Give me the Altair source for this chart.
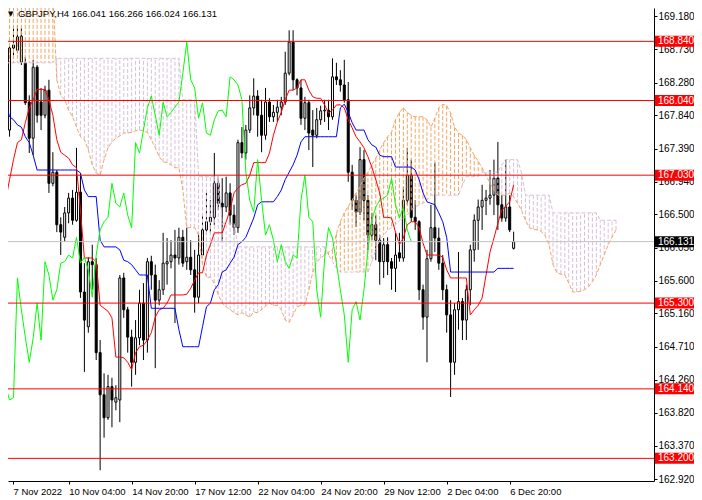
import altair as alt
import pandas as pd

# ---------------- data ----------------
OPEN = [168.11, 167.64, 168.75, 168.72, 168.56, 168.55, 168.02, 167.53, 168.49, 168.02,
        167.84, 168.18, 166.92, 167.07, 166.36, 166.19, 166.52, 166.72, 166.42, 166.80,
        165.45, 164.98, 165.86, 165.82, 164.63, 164.06, 163.75, 164.17, 163.96, 163.99,
        165.64, 165.21, 164.84, 164.50, 164.83, 165.30, 164.80, 165.86, 165.68, 165.34,
        165.48, 165.83, 165.86, 165.95, 165.91, 166.19, 165.86, 165.92, 165.75, 165.38,
        165.95, 166.29, 166.40, 166.46, 166.92, 166.65, 166.60, 166.79, 166.49, 166.32,
        167.47, 167.33, 167.64, 167.94, 168.10, 167.84, 167.57, 168.02, 167.82, 167.88,
        167.95, 168.02, 168.41, 168.83, 168.32, 168.21, 167.80, 168.01, 167.64, 167.57,
        167.78, 167.90, 167.91, 167.82, 168.36, 168.32, 168.25, 168.05, 167.07, 166.69,
        166.53, 167.24, 166.69, 166.22, 166.36, 166.15, 165.86, 166.09, 165.86, 165.77,
        165.98, 165.91, 166.69, 167.03, 166.46, 166.40, 165.48, 165.11, 165.90, 166.32,
        166.18, 165.84, 165.48, 165.14, 164.50, 165.21, 165.32, 165.07, 165.48, 166.02,
        166.42, 166.60, 166.69, 166.72, 166.76, 166.99, 166.63, 166.45, 166.60, 166.041]
HIGH = [168.28, 168.78, 169.06, 169.06, 169.02, 168.63, 168.11, 168.59, 168.52, 168.21,
        168.24, 168.32, 167.34, 167.10, 166.46, 166.60, 166.79, 166.83, 167.40, 167.06,
        165.84, 165.92, 166.09, 165.91, 164.80, 164.35, 164.33, 164.29, 164.19, 165.68,
        165.71, 165.25, 164.94, 165.07, 165.48, 165.57, 165.91, 165.94, 165.82, 165.61,
        166.25, 166.18, 166.15, 166.29, 166.32, 166.29, 166.32, 166.15, 166.02, 166.25,
        166.49, 166.80, 166.69, 167.33, 167.01, 166.99, 167.01, 166.92, 166.63, 167.51,
        167.68, 167.71, 168.11, 168.34, 168.18, 168.05, 168.21, 168.07, 167.98, 168.05,
        168.09, 168.70, 168.99, 168.99, 168.34, 168.32, 168.09, 168.05, 167.91, 167.94,
        167.97, 168.05, 168.05, 168.61, 168.55, 168.45, 168.59, 168.29, 167.17, 166.76,
        167.41, 167.37, 166.76, 166.52, 166.49, 166.22, 166.18, 166.19, 165.91, 166.25,
        166.25, 166.87, 167.40, 167.24, 166.69, 166.42, 165.55, 166.02, 166.63, 167.20,
        166.32, 165.95, 165.55, 165.34, 165.30, 165.99, 165.37, 165.55, 166.09, 166.50,
        166.70, 166.90, 166.83, 167.10, 167.24, 167.48, 166.76, 167.24, 166.76, 166.266]
LOW = [167.55, 167.55, 168.61, 168.68, 168.52, 167.98, 167.33, 167.30, 167.74, 167.64,
       167.80, 166.79, 166.88, 166.26, 165.95, 166.13, 166.38, 166.36, 166.40, 165.37,
       164.37, 164.90, 165.48, 164.53, 163.04, 163.48, 163.72, 163.62, 163.85, 163.69,
       165.10, 164.63, 164.17, 164.33, 164.73, 164.53, 164.63, 165.48, 164.42, 165.27,
       165.41, 165.55, 165.77, 165.03, 165.82, 165.79, 165.75, 165.68, 165.17, 165.30,
       165.91, 166.22, 166.25, 166.36, 166.56, 166.13, 166.53, 166.36, 166.22, 166.25,
       167.26, 167.24, 167.60, 167.84, 167.55, 167.34, 167.51, 167.75, 167.75, 167.75,
       167.84, 167.98, 168.38, 168.18, 168.11, 167.71, 167.64, 167.37, 167.14, 167.53,
       167.71, 167.75, 167.64, 167.78, 168.25, 168.16, 168.01, 166.94, 166.56, 166.33,
       166.49, 166.42, 166.02, 166.15, 165.88, 165.55, 165.64, 165.68, 165.48, 165.45,
       165.86, 165.86, 166.63, 166.40, 166.29, 165.34, 164.94, 164.50, 165.86, 165.99,
       165.75, 165.34, 164.90, 164.03, 164.33, 164.94, 164.80, 164.80, 165.27, 165.86,
       166.02, 166.29, 166.49, 166.63, 166.49, 166.29, 166.40, 166.40, 166.26, 166.024]
CLOSE = [167.84, 168.75, 168.79, 168.90, 168.91, 168.01, 167.53, 168.49, 167.84, 167.84,
         168.18, 166.92, 167.07, 166.36, 166.26, 166.52, 166.72, 166.42, 166.80, 165.45,
         165.07, 165.86, 165.82, 164.63, 164.06, 163.75, 164.17, 163.99, 164.02, 165.64,
         165.21, 164.84, 164.50, 164.83, 165.30, 164.80, 165.86, 165.68, 165.34, 165.48,
         165.84, 165.86, 165.95, 165.91, 166.19, 165.84, 165.92, 165.75, 165.38, 165.95,
         166.29, 166.40, 166.46, 166.92, 166.65, 166.60, 166.79, 166.49, 166.32, 167.47,
         167.33, 167.64, 167.94, 168.10, 167.84, 167.57, 168.02, 167.82, 167.88, 167.95,
         168.02, 168.41, 168.83, 168.32, 168.21, 167.80, 168.01, 167.60, 167.57, 167.78,
         167.90, 167.91, 167.82, 168.36, 168.32, 168.25, 168.05, 167.07, 166.69, 166.53,
         167.24, 166.69, 166.22, 166.36, 166.15, 165.86, 166.09, 165.86, 165.77, 165.95,
         165.91, 166.69, 167.03, 166.46, 166.40, 165.48, 165.11, 165.90, 166.32, 166.18,
         165.84, 165.48, 165.14, 164.50, 165.21, 165.32, 165.07, 165.48, 166.02, 166.42,
         166.60, 166.69, 166.72, 166.76, 166.99, 166.63, 166.45, 166.60, 166.29, 166.131]

TENKAN = [166.69, 166.97, 167.24, 167.47, 167.51, 167.74, 167.94, 168.05, 168.19, 168.19,
          168.19, 168.05, 167.84, 167.51, 167.34, 167.30, 167.26, 167.17, 167.13, 166.56,
          165.91, 165.91, 165.91, 165.86, 165.27, 165.23, 165.19, 165.10, 164.57, 164.57,
          164.56, 164.50, 164.40, 164.63, 164.71, 164.73, 164.80, 164.90, 165.11, 165.21,
          165.23, 165.30, 165.41, 165.41, 165.41, 165.41, 165.42, 165.50, 165.61, 165.71,
          165.71, 165.95, 166.09, 166.25, 166.25, 166.25, 166.40, 166.56, 166.79, 166.86,
          166.90, 166.92, 167.03, 167.20, 167.20, 167.20, 167.20, 167.33, 167.57, 167.75,
          167.88, 168.05, 168.18, 168.18, 168.21, 168.32, 168.32, 168.18, 168.09, 168.07,
          168.07, 167.98, 167.87, 167.91, 167.98, 167.98, 167.94, 167.78, 167.67, 167.55,
          167.48, 167.40, 167.28, 167.14, 166.97, 166.79, 166.46, 166.46, 166.45, 166.26,
          166.09, 166.18, 166.36, 166.40, 166.40, 166.32, 166.11, 165.95, 165.95, 165.95,
          165.95, 165.92, 165.75, 165.64, 165.64, 165.64, 165.64, 165.64, 165.14, 165.21,
          165.27, 165.37, 165.68, 165.99, 166.18, 166.38, 166.56, 166.61, 166.67, 166.90]
KIJUN = [168.01, 167.82, 167.78, 167.71, 167.68, 167.55, 167.47, 167.30, 167.10, 167.10,
         167.10, 167.10, 167.10, 167.10, 167.10, 167.10, 167.10, 167.10, 167.10, 167.06,
         166.83, 166.74, 166.74, 166.74, 166.15, 166.06, 166.06, 166.06, 166.06, 166.02,
         165.88, 165.86, 165.82, 165.75, 165.68, 165.68, 165.68, 165.23, 165.23, 165.23,
         165.23, 165.23, 165.23, 165.23, 164.94, 164.71, 164.71, 164.71, 164.71, 164.71,
         164.98, 165.25, 165.30, 165.48, 165.55, 165.72, 165.75, 165.84, 165.92, 166.09,
         166.13, 166.19, 166.32, 166.45, 166.63, 166.67, 166.67, 166.67, 166.67, 166.74,
         166.83, 166.97, 167.07, 167.17, 167.30, 167.48, 167.55, 167.55, 167.55, 167.55,
         167.55, 167.55, 167.55, 167.55, 167.55, 167.94, 167.99, 167.88, 167.74, 167.64,
         167.64, 167.64, 167.51, 167.44, 167.41, 167.30, 167.28, 167.28, 167.28, 167.14,
         167.14, 167.14, 167.14, 167.14, 167.10, 166.97, 166.79, 166.67, 166.65, 166.63,
         166.52, 166.40, 166.19, 165.72, 165.72, 165.72, 165.72, 165.72, 165.72, 165.72,
         165.72, 165.72, 165.72, 165.72, 165.72, 165.77, 165.77, 165.77, 165.77, 165.77]
SENKOU_A = [169.55, 169.55, 169.55, 169.55, 169.55, 169.55, 169.55, 169.55, 169.55, 169.55,
            169.55, 169.55, 169.55, 168.32, 168.11, 168.05, 167.91, 167.82, 167.68, 167.55,
            167.51, 167.37, 167.17, 167.06, 167.03, 167.24, 167.40, 167.48, 167.53, 167.56,
            167.60, 167.60, 167.61, 167.63, 167.64, 167.63, 167.61, 167.51, 167.40, 167.28,
            167.21, 167.20, 167.17, 167.13, 167.13, 166.83, 166.32, 166.32, 166.32, 166.22,
            165.82, 165.65, 165.65, 165.57, 165.41, 165.30, 165.25, 165.21, 165.17, 165.14,
            165.17, 165.14, 165.11, 165.18, 165.17, 165.21, 165.26, 165.30, 165.27, 165.27,
            165.21, 165.07, 165.04, 165.14, 165.25, 165.27, 165.27, 165.48, 165.72, 165.86,
            165.91, 165.95, 165.99, 166.02, 166.24, 166.40, 166.52, 166.61, 166.69, 166.79,
            166.88, 166.99, 167.07, 167.17, 167.26, 167.37, 167.47, 167.55, 167.61, 167.78,
            167.88, 167.94, 167.88, 167.84, 167.82, 167.82, 167.82, 167.78, 167.68, 167.80,
            167.94, 167.99, 167.97, 167.87, 167.68, 167.60, 167.57, 167.51, 167.40, 167.30,
            167.22, 167.13, 167.03, 166.92, 166.83, 166.76, 166.76, 166.76, 166.79, 166.74,
            166.65, 166.56, 166.42, 166.32, 166.30, 166.29, 166.27, 166.21, 166.09, 165.82,
            165.71, 165.69, 165.68, 165.57, 165.45, 165.45, 165.46, 165.48, 165.52, 165.59,
            165.68, 165.82, 165.95, 166.09, 166.19, 166.29]
SENKOU_B = [168.55, 168.55, 168.55, 168.55, 168.55, 168.55, 168.55, 168.55, 168.55, 168.55,
            168.55, 168.55, 168.55, 168.61, 168.61, 168.61, 168.61, 168.61, 168.61, 168.61,
            168.61, 168.61, 168.61, 168.61, 168.61, 168.61, 168.61, 168.61, 168.61, 168.61,
            168.61, 168.61, 168.61, 168.61, 168.61, 168.61, 168.61, 168.61, 168.61, 168.61,
            168.61, 168.61, 168.61, 168.61, 168.61, 168.05, 168.05, 168.05, 168.05, 167.01,
            167.01, 167.01, 167.01, 167.01, 167.01, 166.38, 166.38, 166.38, 166.38, 166.06,
            166.06, 166.06, 166.06, 166.06, 166.06, 166.06, 166.06, 166.06, 166.06, 166.06,
            166.06, 166.06, 166.06, 166.06, 166.06, 166.06, 166.06, 166.06, 166.06, 166.06,
            166.06, 166.06, 165.95, 165.86, 165.77, 165.72, 165.72, 165.72, 165.72, 165.72,
            165.72, 165.72, 165.72, 165.86, 166.02, 166.15, 166.22, 166.29, 166.32, 166.36,
            166.42, 166.45, 166.49, 166.56, 166.60, 166.63, 166.65, 166.69, 166.76, 166.76,
            166.76, 166.76, 166.76, 166.76, 166.76, 166.76, 166.90, 167.01, 167.01, 167.01,
            167.01, 167.07, 167.07, 167.07, 167.07, 167.07, 167.17, 167.24, 167.24, 167.24,
            167.24, 167.06, 166.76, 166.76, 166.76, 166.76, 166.76, 166.76, 166.76, 166.52,
            166.52, 166.52, 166.52, 166.52, 166.52, 166.52, 166.52, 166.52, 166.52, 166.52,
            166.52, 166.42, 166.42, 166.42, 166.42, 166.42]
CHIKOU_SHIFT = 26
LEVELS = [168.840, 168.040, 167.030, 165.300, 164.140, 163.200]
LAST_PRICE = 166.131
Y_TICKS = [169.180, 168.730, 168.280, 167.840, 167.390, 166.940, 166.500, 166.050,
           165.600, 165.160, 164.710, 164.260, 163.820, 163.370, 162.920]
X_TICK_BARS = [1.875, 16, 32, 48, 64, 80, 96, 112, 128]
X_TICK_LABELS = ["7 Nov 2022", "10 Nov 04:00", "14 Nov 20:00", "17 Nov 12:00", "22 Nov 04:00",
                 "24 Nov 20:00", "29 Nov 12:00", "2 Dec 04:00", "6 Dec 20:00"]
TITLE = "GBPJPY,H4  166.041 166.266 166.024 166.131"

# ---------------- tables ----------------
n = len(CLOSE)
candles = pd.DataFrame({"bar": list(range(n)), "open": OPEN, "high": HIGH,
                        "low": LOW, "close": CLOSE})
candles["body_fill"] = ["#FFFFFF" if c >= o else "#000000" for o, c in zip(OPEN, CLOSE)]
ind = pd.DataFrame({"bar": list(range(n)), "tenkan": TENKAN, "kijun": KIJUN})
cloud = pd.DataFrame({"bar": list(range(len(SENKOU_A))), "a": SENKOU_A, "b": SENKOU_B})
cloud["col"] = ["#F4A460" if a >= b else "#D8BFD8" for a, b in zip(SENKOU_A, SENKOU_B)]
chikou = pd.DataFrame({"bar": [i - CHIKOU_SHIFT for i in range(CHIKOU_SHIFT, n)],
                       "price": CLOSE[CHIKOU_SHIFT:]})
levels = pd.DataFrame({"price": LEVELS, "label": [f"{v:.3f}" for v in LEVELS]})
last = pd.DataFrame({"price": [LAST_PRICE], "label": [f"{LAST_PRICE:.3f}"]})
title_df = pd.DataFrame({"t": [TITLE], "tri": ["\u25BC"]})

# ---------------- scales / axes ----------------
W, H = 646, 473          # plot area
TOTAL_W = 686            # whole svg width (fits the page body)
FONT = "Liberation Sans"
BAR_PX = 4.0
X0 = 1.875
xs = alt.Scale(domain=[X0, X0 + W / BAR_PX], nice=False, zero=False)
ys = alt.Scale(domain=[162.894, 169.291], nice=False, zero=False)
labels_js = "[" + ",".join(f"'{s}'" for s in X_TICK_LABELS) + "]"
vals_js = "[" + ",".join(str(v) for v in X_TICK_BARS) + "]"
x_axis = alt.Axis(values=X_TICK_BARS, labelExpr=f"{labels_js}[indexof({vals_js}, datum.value)]",
                  labelAlign="left", labelFont=FONT, labelFontSize=9.5, labelColor="black",
                  tickSize=3, tickColor="black", domainColor="black", labelPadding=2,
                  grid=False, title=None, labelOverlap=False, labelFlush=False)
y_axis = alt.Axis(orient="right", values=Y_TICKS, format=".3f", labelFont=FONT,
                  labelFontSize=10, labelColor="black", tickSize=3, tickColor="black",
                  domainColor="black", labelPadding=1, grid=False, title=None,
                  labelOverlap=False, labelFlush=False)


def X(field="bar"):
    return alt.X(f"{field}:Q", scale=xs, axis=x_axis)


def Y(field):
    return alt.Y(f"{field}:Q", scale=ys, axis=y_axis)


DASH = [4, 2]
wicks = alt.Chart(candles).mark_rule(color="black", strokeWidth=1, clip=True).encode(
    x=X(), y=Y("low"), y2="high:Q")
bodies = alt.Chart(candles).mark_bar(stroke="black", strokeWidth=1, clip=True).encode(
    x=X(), y=Y("open"), y2="close:Q", fill=alt.Fill("body_fill:N", scale=None),
    size=alt.value(2))
cloud_hist = alt.Chart(cloud).mark_rule(strokeWidth=1, strokeDash=DASH, clip=True).encode(
    x=X(), y=Y("a"), y2="b:Q", color=alt.Color("col:N", scale=None))
span_a = alt.Chart(cloud).mark_line(color="#F4A460", strokeWidth=1, strokeDash=DASH,
                                    clip=True).encode(x=X(), y=Y("a"))
span_b = alt.Chart(cloud).mark_line(color="#D8BFD8", strokeWidth=1, strokeDash=DASH,
                                    clip=True).encode(x=X(), y=Y("b"))
tenkan = alt.Chart(ind).mark_line(color="#FF0000", strokeWidth=1, clip=True).encode(
    x=X(), y=Y("tenkan"))
kijun = alt.Chart(ind).mark_line(color="#0000FF", strokeWidth=1, clip=True).encode(
    x=X(), y=Y("kijun"))
chik = alt.Chart(chikou).mark_line(color="#00FF00", strokeWidth=1, clip=True).encode(
    x=X(), y=Y("price"))
last_line = alt.Chart(last).mark_rule(color="#C0C0C0", strokeWidth=1).encode(
    y=Y("price"), x=alt.value(0), x2=alt.value(W))
level_lines = alt.Chart(levels).mark_rule(color="#FF0000", strokeWidth=1).encode(
    y=Y("price"), x=alt.value(0), x2=alt.value(W))
level_boxes = alt.Chart(levels).mark_rule(color="#FF0000", strokeWidth=11, strokeCap="butt").encode(
    y=Y("price"), x=alt.value(W + 1), x2=alt.value(TOTAL_W))
level_text = alt.Chart(levels).mark_text(align="left", baseline="middle", font=FONT, fontSize=10,
                                         color="white").encode(
    y=Y("price"), x=alt.value(W + 4), text="label:N")
last_box = alt.Chart(last).mark_rule(color="#000000", strokeWidth=11, strokeCap="butt").encode(
    y=Y("price"), x=alt.value(W + 1), x2=alt.value(TOTAL_W))
last_text = alt.Chart(last).mark_text(align="left", baseline="middle", font=FONT, fontSize=10,
                                      color="white").encode(
    y=Y("price"), x=alt.value(W + 4), text="label:N")
title_tri = alt.Chart(title_df).mark_text(align="left", baseline="top", font="DejaVu Sans",
                                          fontSize=7, color="black").encode(
    x=alt.value(0), y=alt.value(2), text="tri:N")
title_txt = alt.Chart(title_df).mark_text(align="left", baseline="top", font=FONT, fontSize=9.5,
                                          color="black").encode(
    x=alt.value(10), y=alt.value(1), text="t:N")

chart = alt.layer(
    wicks, bodies, cloud_hist, span_a, span_b, tenkan, kijun, chik,
    last_line, level_lines, level_boxes, level_text, last_box, last_text,
    title_tri, title_txt
).properties(
    width=W, height=H,
    padding={"left": 0, "top": 0, "right": TOTAL_W - W, "bottom": 19},
    autosize=alt.AutoSizeParams(type="none"),
    background="white",
).configure_view(stroke=None)

chart.save("out.html", embed_options={"renderer": "svg", "actions": False})
